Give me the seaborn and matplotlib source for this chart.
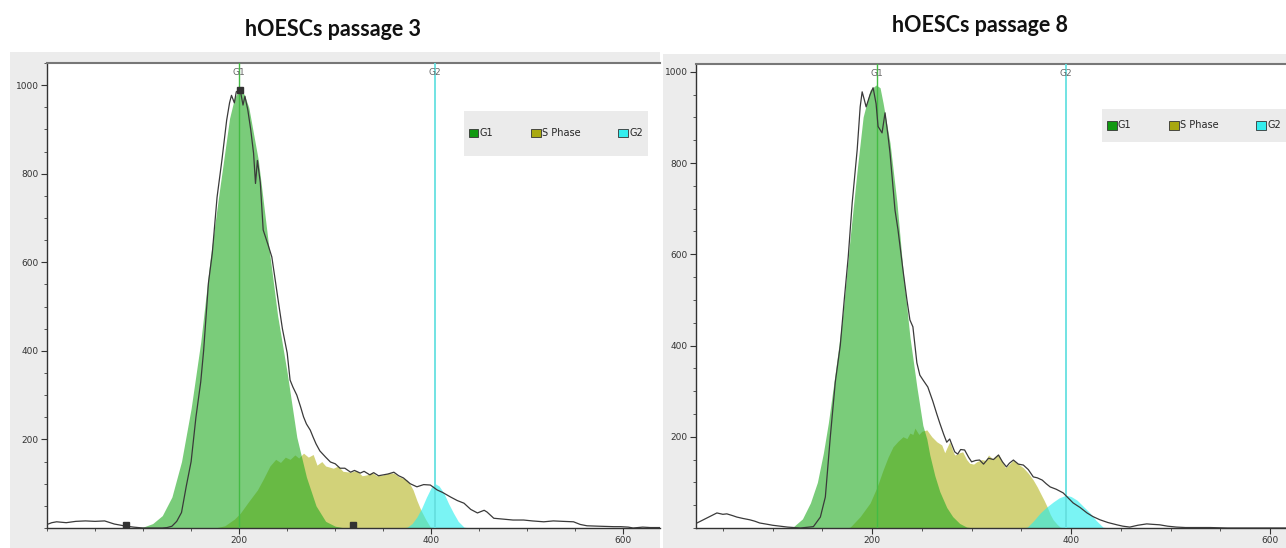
import matplotlib
matplotlib.use("Agg")
import matplotlib.pyplot as plt
from matplotlib.patches import Patch, Rectangle
from matplotlib.ticker import MultipleLocator, FixedLocator
import seaborn as sns
import pandas as pd

# ---- passage 3 (left) ----
p3_x = [0, 5, 10, 20, 30, 40, 50, 60, 70, 80, 90, 100, 110, 120, 125, 130, 135, 140, 145, 150,
        155, 160, 163, 168, 172, 177, 182, 187, 190, 192, 195, 197, 201, 204, 206, 209, 212, 215,
        217, 219, 222, 225, 230, 234, 238, 241, 245, 250, 253, 256, 260, 264, 267, 270, 274, 277,
        280, 284, 290, 295, 300, 305, 310, 316, 320, 326, 330, 336, 340, 345, 350, 355, 361, 366,
        371, 378, 385, 392, 399, 406, 412, 420, 427, 434, 441, 448, 455, 458, 465, 475, 485, 496,
        505, 517, 527, 537, 548, 555, 562, 575, 590, 597, 605, 610, 620, 628, 640]
p3_counts = [8, 12, 14, 12, 15, 16, 15, 16, 9, 5, 2, 0, 0, 0, 1, 4, 15, 35, 95, 150,
             250, 330, 400, 553, 620, 747, 830, 921, 960, 977, 960, 985, 990, 955, 975, 944, 900, 846,
             778, 830, 780, 673, 640, 612, 553, 508, 450, 395, 334, 318, 300, 273, 251, 235, 221, 205,
             190, 174, 160, 149, 145, 135, 135, 126, 130, 124, 128, 120, 125, 118, 120, 122, 126, 118,
             113, 100, 93, 98, 97, 86, 80, 70, 62, 56, 42, 34, 40, 36, 22, 20, 18, 18,
             16, 14, 16, 15, 14, 8, 5, 4, 3, 3, 2, 0, 2, 1, 1]
p3_g1_x = [90, 100, 110, 120, 130, 140, 150, 160, 170, 180, 190, 195, 200, 205, 210, 220, 230,
           240, 250, 260, 270, 280, 290, 300, 310]
p3_g1_y = [0, 2, 10, 28, 70, 150, 270, 420, 610, 770, 925, 970, 990, 980, 950, 830, 650,
           480, 350, 205, 115, 50, 15, 4, 0]
p3_s_x = [175, 185, 195, 201, 210, 219, 225, 232, 238, 243, 248, 253, 258, 262, 267, 272, 277,
          281, 286, 290, 298, 303, 308, 316, 322, 328, 333, 338, 343, 350, 355, 361, 366, 371,
          375, 378, 381, 385, 389, 394, 399, 403]
p3_s_y = [0, 5, 20, 33, 60, 86, 110, 140, 155, 148, 160, 155, 165, 158, 169, 160, 166,
          142, 150, 140, 135, 140, 128, 126, 130, 118, 120, 126, 118, 120, 124, 124, 116, 112,
          108, 98, 86, 62, 41, 20, 2, 0]
p3_g2_x = [370, 375, 380, 385, 390, 395, 400, 404, 408, 413, 418, 423, 428, 434, 440]
p3_g2_y = [0, 2, 10, 25, 45, 70, 92, 100, 95, 79, 55, 34, 15, 2, 0]
p3_gates = [200, 404]
p3_marker_x = [82, 318, 201]
p3_marker_y = [6, 6, 990]

# ---- passage 8 (right) ----
p8_x = [24, 34, 44, 50, 54, 60, 64, 70, 77, 82, 87, 95, 100, 115, 128, 141, 148, 153, 158, 163,
        168, 172, 176, 180, 185, 188, 190, 192, 194, 198, 201, 204, 206, 210, 213, 216, 218, 223,
        226, 231, 235, 238, 241, 245, 248, 251, 256, 261, 265, 268, 272, 275, 278, 283, 286, 289,
        293, 297, 300, 304, 308, 312, 317, 322, 327, 331, 335, 338, 342, 347, 352, 357, 362, 366,
        371, 375, 379, 385, 392, 397, 402, 409, 416, 422, 429, 437, 446, 452, 459, 467, 476, 482,
        489, 497, 506, 515, 523, 540, 557, 580, 616]
p8_counts = [11, 22, 33, 30, 31, 27, 24, 21, 18, 15, 11, 8, 6, 2, 0, 3, 24, 68, 200, 320,
             400, 500, 594, 713, 829, 923, 956, 940, 923, 950, 965, 930, 880, 866, 910, 860, 822, 697,
             654, 566, 500, 456, 441, 362, 335, 325, 309, 278, 250, 230, 205, 188, 195, 167, 162, 172,
             171, 155, 145, 148, 149, 140, 153, 150, 160, 145, 134, 142, 149, 140, 138, 128, 112, 110,
             105, 97, 90, 85, 77, 66, 55, 45, 33, 25, 18, 12, 7, 4, 2, 6, 9, 8,
             7, 4, 2, 1, 1, 1, 0, 0, 0]
p8_g1_x = [110, 121, 130, 138, 145, 151, 156, 161, 166, 171, 178, 185, 191, 198, 204, 208, 211,
           218, 225, 231, 238, 245, 251, 255, 258, 263, 268, 275, 281, 288, 295, 302]
p8_g1_y = [0, 3, 20, 55, 100, 164, 230, 309, 390, 478, 638, 785, 901, 960, 971, 965, 932,
           844, 713, 566, 419, 309, 225, 195, 160, 115, 80, 45, 25, 10, 2, 0]
p8_s_x = [175, 178, 188, 198, 205, 211, 216, 221, 226, 231, 235, 238, 241, 243, 247, 250, 255,
          260, 265, 270, 273, 275, 278, 281, 283, 288, 291, 295, 298, 302, 305, 310, 314, 317,
          321, 324, 327, 331, 334, 338, 342, 347, 352, 357, 362, 366, 369, 373, 376, 379, 382,
          386, 389, 393]
p8_s_y = [0, 2, 25, 55, 90, 127, 155, 178, 190, 200, 196, 208, 205, 219, 205, 212, 215,
          200, 189, 182, 165, 175, 189, 170, 160, 165, 167, 150, 142, 140, 145, 150, 148, 160,
          152, 158, 162, 145, 132, 140, 149, 140, 132, 120, 105, 90, 77, 60, 46, 30, 18,
          8, 2, 0]
p8_g2_x = [350, 356, 362, 369, 375, 382, 388, 395, 400, 406, 412, 419, 425, 432, 438]
p8_g2_y = [0, 2, 15, 33, 45, 57, 66, 72, 69, 61, 48, 33, 17, 2, 0]
p8_gates = [205, 395]

phase_names = ["G1", "S Phase", "G2"]
phase_colors = ["#22aa22", "#b5b520", "#22eeee"]
legend_colors = ["#119911", "#a8a810", "#33eeee"]

sns.set_theme(style="white")
plt.rcParams["font.family"] = ["DejaVu Sans"]

fig = plt.figure(figsize=(12.86, 5.48), dpi=100)
W, H = 1286, 548


def fig_rect(x0, y0, x1, y1):
    # pixel box (top-left origin) -> figure fraction
    return [x0 / W, 1 - y1 / H, (x1 - x0) / W, (y1 - y0) / H]


for box in [(10, 52, 660, 548), (663, 54, 1286, 548)]:
    r = fig_rect(*box)
    fig.patches.append(Rectangle((r[0], r[1]), r[2], r[3], transform=fig.transFigure,
                                 facecolor="#ececec", edgecolor="none", zorder=-10))


def draw_panel(ax, x, counts, g1, s, g2, gates, xlim, ylim, leg_box):
    ax.set_facecolor("white")
    ax.fill_between(s[0], s[1], color=phase_colors[1], alpha=0.6, linewidth=0)
    ax.fill_between(g2[0], g2[1], color=phase_colors[2], alpha=0.6, linewidth=0)
    ax.fill_between(g1[0], g1[1], color=phase_colors[0], alpha=0.6, linewidth=0)
    ax.axvline(gates[0], color="#44bb44", lw=1.0, zorder=3)
    ax.axvline(gates[1], color="#66e0e0", lw=1.3, zorder=3)
    df = pd.DataFrame({"channel": x, "count": counts})
    sns.lineplot(data=df, x="channel", y="count", ax=ax, color="#3a3a3a", linewidth=0.9,
                 sort=False, zorder=4)
    for gx, lab in zip(gates, ["G1", "G2"]):
        ax.text(gx, ylim[1] - 12, lab, ha="center", va="top", fontsize=6.5, color="#666666")
    ax.set_xlim(*xlim)
    ax.set_ylim(*ylim)
    ax.xaxis.set_major_locator(FixedLocator([200, 400, 600]))
    ax.xaxis.set_minor_locator(MultipleLocator(50))
    ax.yaxis.set_major_locator(FixedLocator([200, 400, 600, 800, 1000]))
    ax.yaxis.set_minor_locator(MultipleLocator(50))
    ax.tick_params(axis="both", which="major", direction="out", length=4, width=0.8,
                   labelsize=6.5, colors="#333333", pad=2, bottom=True, left=True)
    ax.tick_params(axis="both", which="minor", direction="out", length=2.5, width=0.7,
                   colors="#555555", bottom=True, left=True)
    ax.set_xlabel("")
    ax.set_ylabel("")
    for side in ["left", "bottom"]:
        ax.spines[side].set_color("#333333")
        ax.spines[side].set_linewidth(1.0)
    ax.spines["top"].set_color("#777777")
    ax.spines["top"].set_linewidth(1.5)
    ax.spines["right"].set_visible(False)
    # grey legend panel
    ax.add_patch(Rectangle((leg_box[0], leg_box[1]), leg_box[2], leg_box[3],
                           transform=ax.transAxes, facecolor="#ebebeb", edgecolor="none",
                           zorder=6))
    handles = [Patch(facecolor=c, edgecolor="#333333", linewidth=0.6) for c in legend_colors]
    leg = ax.legend(handles, phase_names, ncol=3, loc="center", mode="expand",
                    bbox_to_anchor=leg_box, fontsize=7, frameon=False,
                    handlelength=1.0, handleheight=1.0, handletextpad=0.15, borderpad=0.1,
                    borderaxespad=0.4, columnspacing=1.0)
    leg.set_zorder(7)


ax1 = fig.add_axes(fig_rect(47, 63, 660, 528))
draw_panel(ax1, p3_x, p3_counts, (p3_g1_x, p3_g1_y), (p3_s_x, p3_s_y), (p3_g2_x, p3_g2_y),
           p3_gates, (0, 638), (0, 1050), (0.68, 0.80, 0.30, 0.097))
ax1.plot(p3_marker_x, p3_marker_y, "s", color="#333333", markersize=4, zorder=5)

ax2 = fig.add_axes(fig_rect(696, 64, 1286, 528))
draw_panel(ax2, p8_x, p8_counts, (p8_g1_x, p8_g1_y), (p8_s_x, p8_s_y), (p8_g2_x, p8_g2_y),
           p8_gates, (23, 616), (0, 1017), (0.688, 0.832, 0.312, 0.071))

fig.text(333 / W, 1 - 30 / H, "hOESCs passage 3", ha="center", va="center",
         fontsize=15.5, fontweight="bold", family="Lato", color="#111111")
fig.text(980 / W, 1 - 25 / H, "hOESCs passage 8", ha="center", va="center",
         fontsize=15.5, fontweight="bold", family="Lato", color="#111111")

fig.savefig("out.png", dpi=100)
